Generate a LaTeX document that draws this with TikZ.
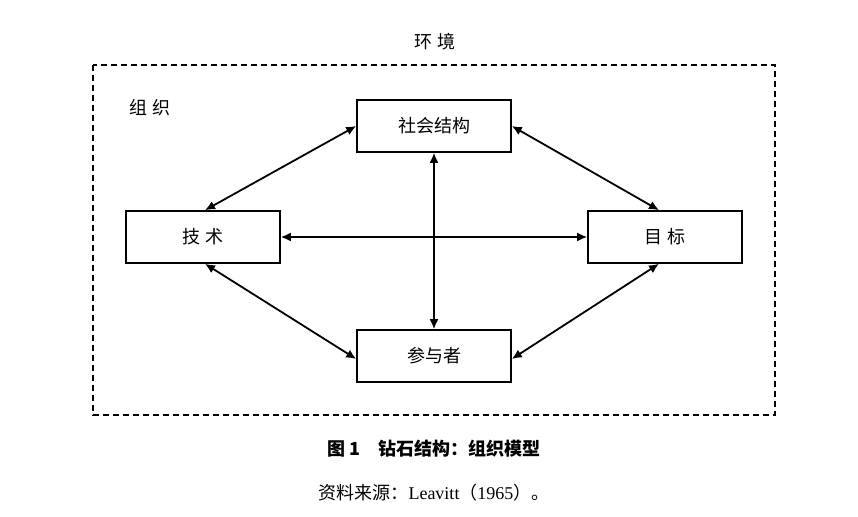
\documentclass[tikz,border=0pt]{standalone}
\usepackage{fontspec}
\usetikzlibrary{arrows.meta}
\setmainfont{Liberation Serif}
\newfontfamily\cjk{Noto Sans CJK SC}
\begin{document}
\begin{tikzpicture}[x=0.5pt,y=-0.5pt,
  box/.style={draw,line width=0.8pt,minimum width=77pt,minimum height=26pt,font=\cjk\fontsize{9}{10}\selectfont},
  arr/.style={line width=0.9pt,{Latex[length=5pt,width=4.5pt]}-{Latex[length=5pt,width=4.5pt]}},
  txt/.style={font=\cjk\fontsize{9}{10}\selectfont}]
\useasboundingbox (0,0) rectangle (858,517);
\draw[line width=0.8pt,dash pattern=on 3pt off 2pt] (93,65) rectangle (775,415);
\node[txt] (env) at (435,42) {环\ 境};
\node[txt] (org) at (150,108) {组\ 织};
\node[box] (top) at (434,126) {社会结构};
\node[box] (left) at (203,237) {技\ 术};
\node[box] (right) at (665,237) {目\ 标};
\node[box] (bot) at (434,356) {参与者};
\draw[arr] ([xshift=1pt]left.north) -- (top.west);
\draw[arr] (top.east) -- ([xshift=-3pt]right.north);
\draw[arr] (top.south) -- (bot.north);
\draw[arr] (left.east) -- (right.west);
\draw[arr] ([xshift=1pt]left.south) -- ([yshift=-1.5pt]bot.west);
\draw[arr] ([yshift=-1.5pt]bot.east) -- ([xshift=-3pt]right.south);
\node[font=\cjk\bfseries\fontsize{9}{10}\selectfont] (cap) at (434,449) {图 1\quad 钻石结构：组织模型};
\node[font=\fontsize{9}{10}\selectfont] (src) at (434,493) {{\cjk 资料来源：}Leavitt{\cjk （}1965{\cjk ）。}};
\end{tikzpicture}
\end{document}
